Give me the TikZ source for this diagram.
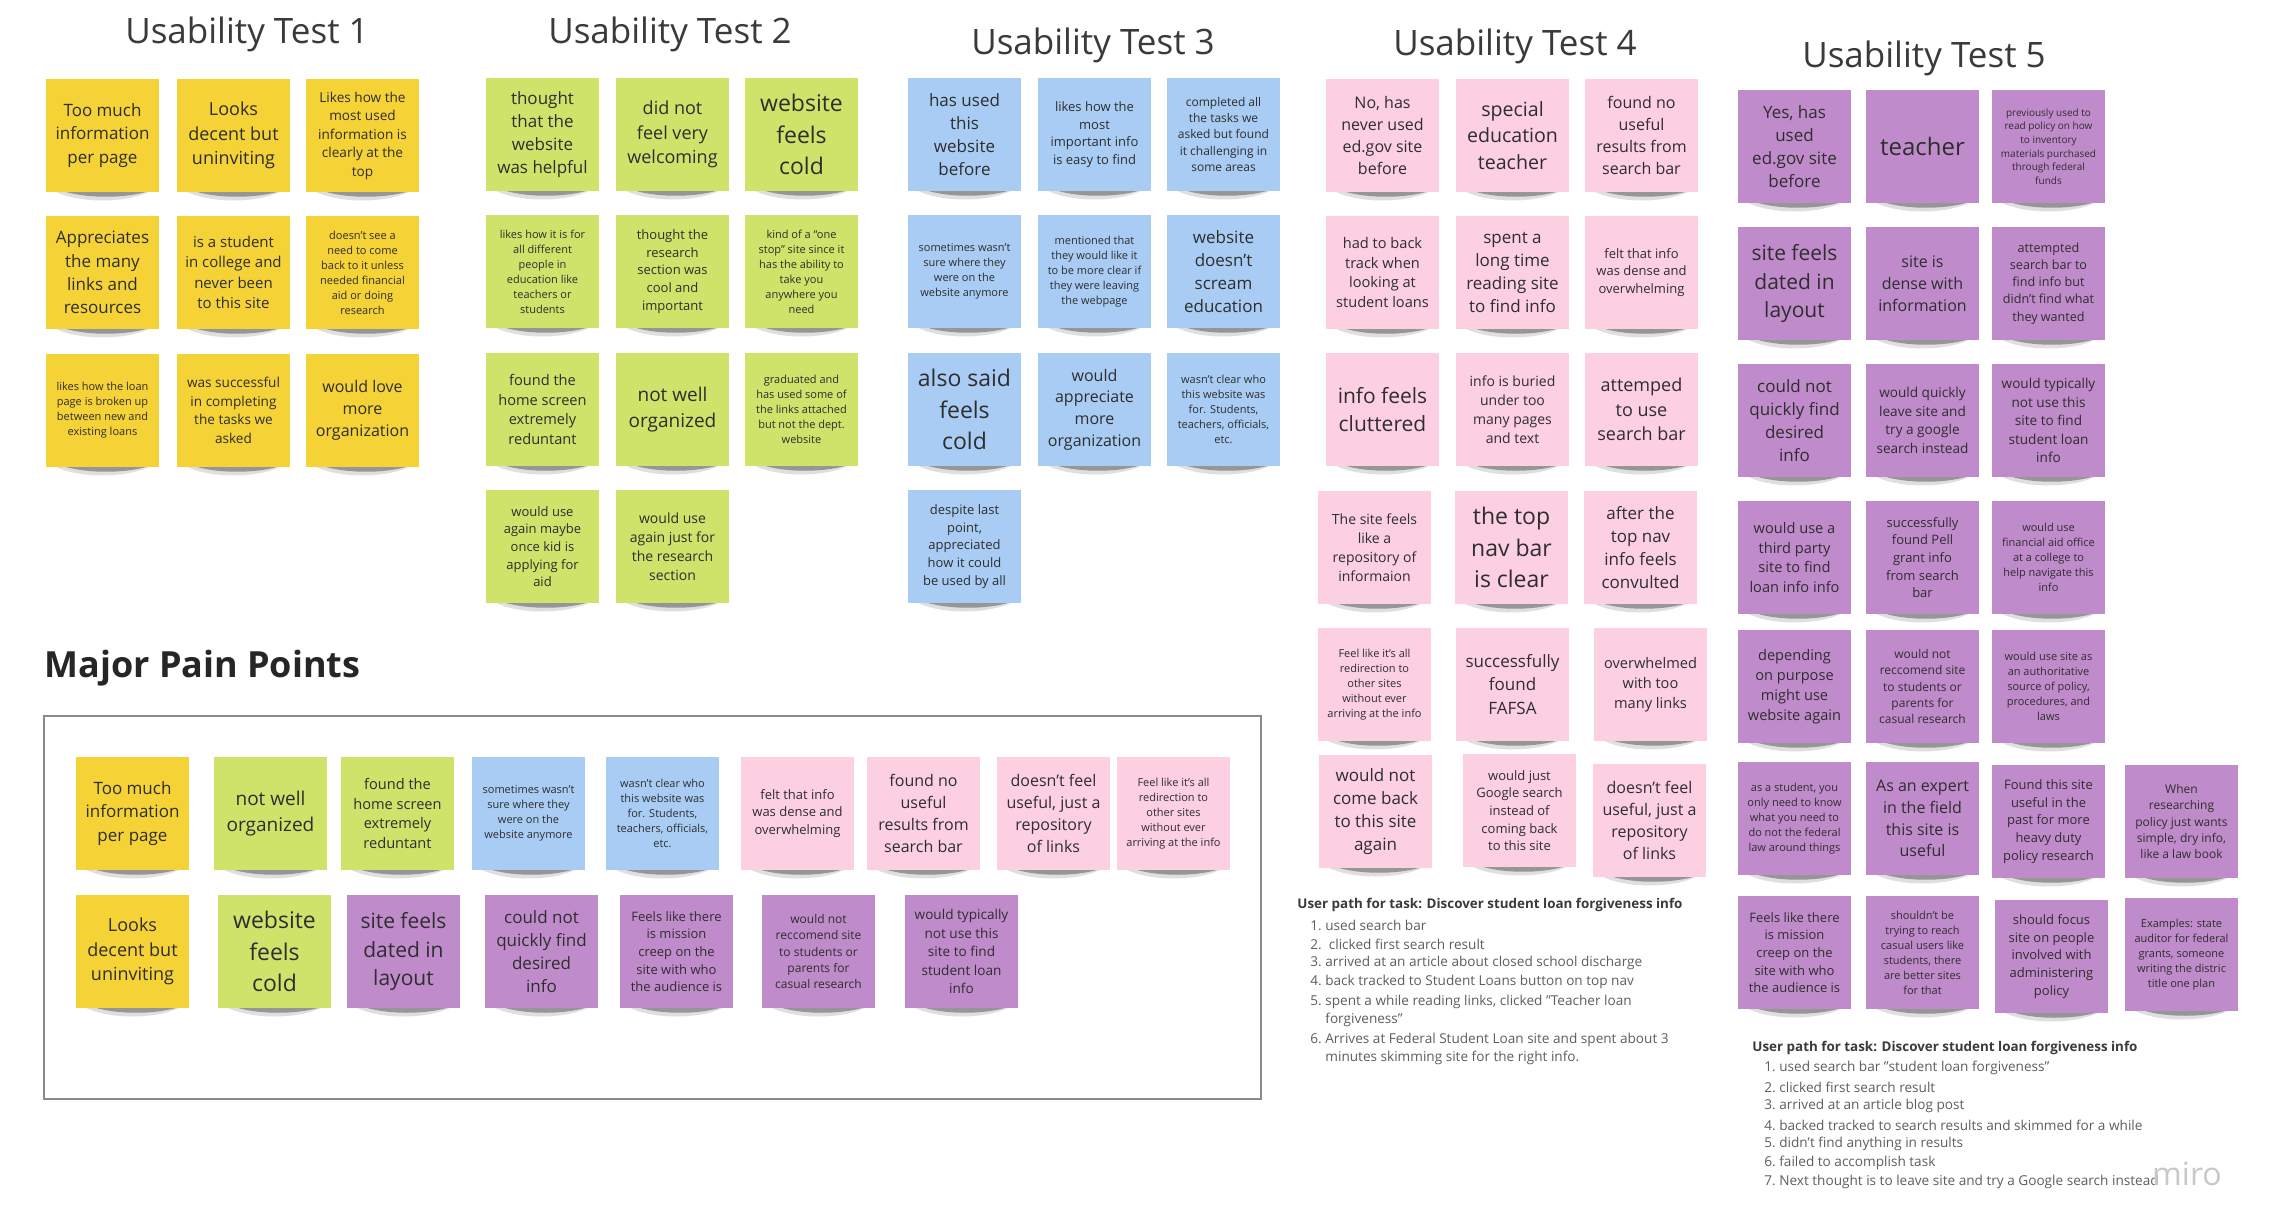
\documentclass[tikz,border=0pt]{standalone}
\usepackage{fontspec}
\setmainfont{Open Sans}
\definecolor{ylw}{HTML}{F5D236}
\definecolor{grn}{HTML}{CFE26A}
\definecolor{blu}{HTML}{A8CCF3}
\definecolor{pnk}{HTML}{FCCFE1}
\definecolor{prp}{HTML}{C08BCB}
\definecolor{notetxt}{HTML}{2E2E2E}
\definecolor{titletxt}{HTML}{3A3A3A}
\definecolor{shadowc}{HTML}{202020}
\definecolor{boxgray}{HTML}{8A8A8A}
\definecolor{pathgray}{HTML}{5E5E5E}
\definecolor{wmark}{HTML}{C8C8C8}
\tikzset{
  sticky/.style={rectangle, draw=none, minimum width=56.5pt, minimum height=56.5pt,
    inner sep=0pt, align=center, text=notetxt},
  ttl/.style={font=\fontsize{17.5}{21}\selectfont, text=titletxt, inner sep=0pt},
  pathhead/.style={anchor=west, inner sep=0pt, font=\bfseries\fontsize{6.7}{8}\selectfont, text=titletxt},
  pathitem/.style={anchor=west, inner sep=0pt, font=\fontsize{6.8}{8}\selectfont, text=pathgray},
}
\newcommand\stk[6]{%
  \fill[shadowc, opacity=.14] (#2+2,#3+108) .. controls (#2+25,#3+126) and (#2+88,#3+126) .. (#2+111,#3+108) -- cycle;
  \fill[shadowc, opacity=.38] (#2+14,#3+111) .. controls (#2+38,#3+120) and (#2+82,#3+120) .. (#2+106,#3+111) -- cycle;
  \node[sticky, fill=#4, font={\fontsize{#5pt}{\dimexpr#5pt*136/100\relax}\selectfont}] (#1) at (#2+56.5,#3+56.5) {#6};%
}
\begin{document}
\begin{tikzpicture}[x=0.5pt,y=-0.5pt]
\useasboundingbox[fill=white] (0,0) rectangle (2276,1213);

% titles
\node[ttl] (t1) at (247,34) {Usability Test 1};
\node[ttl] (t2) at (670,34) {Usability Test 2};
\node[ttl] (t3) at (1093,45) {Usability Test 3};
\node[ttl] (t4) at (1515,46) {Usability Test 4};
\node[ttl] (t5) at (1924,58) {Usability Test 5};

% Test 1
\stk{a1}{46}{79}{ylw}{8.5}{Too much\\information\\per page}
\stk{a2}{177}{79}{ylw}{9}{Looks\\decent but\\uninviting}
\stk{a3}{306}{79}{ylw}{6.8}{Likes how the\\most used\\information is\\clearly at the\\top}
\stk{a4}{46}{216}{ylw}{8.5}{Appreciates\\the many\\links and\\resources}
\stk{a5}{177}{216}{ylw}{7.5}{is a student\\in college and\\never been\\to this site}
\stk{a6}{306}{216}{ylw}{5.5}{doesn't see a\\need to come\\back to it unless\\needed financial\\aid or doing\\research}
\stk{a7}{46}{354}{ylw}{5.5}{likes how the loan\\page is broken up\\between new and\\existing loans}
\stk{a8}{177}{354}{ylw}{6.8}{was successful\\in completing\\the tasks we\\asked}
\stk{a9}{306}{354}{ylw}{8}{would love\\more\\organization}

% Test 2
\stk{b1}{486}{78}{grn}{8.5}{thought\\that the\\website\\was helpful}
\stk{b2}{616}{78}{grn}{9}{did not\\feel very\\welcoming}
\stk{b3}{745}{78}{grn}{11.5}{website\\feels\\cold}
\stk{b4}{486}{215}{grn}{5.5}{likes how it is for\\all different\\people in\\education like\\teachers or\\students}
\stk{b5}{616}{215}{grn}{6.5}{thought the\\research\\section was\\cool and\\important}
\stk{b6}{745}{215}{grn}{5.5}{kind of a ``one\\stop'' site since it\\has the ability to\\take you\\anywhere you\\need}
\stk{b7}{486}{353}{grn}{7.3}{found the\\home screen\\extremely\\reduntant}
\stk{b8}{616}{353}{grn}{9.5}{not well\\organized}
\stk{b9}{745}{353}{grn}{5.5}{graduated and\\has used some of\\the links attached\\but not the dept.\\website}
\stk{b10}{486}{490}{grn}{6.5}{would use\\again maybe\\once kid is\\applying for\\aid}
\stk{b11}{616}{490}{grn}{7}{would use\\again just for\\the research\\section}

% Test 3
\stk{c1}{908}{78}{blu}{8.5}{has used\\this\\website\\before}
\stk{c2}{1038}{78}{blu}{6.5}{likes how the\\most\\important info\\is easy to find}
\stk{c3}{1167}{78}{blu}{6}{completed all\\the tasks we\\asked but found\\it challenging in\\some areas}
\stk{c4}{908}{215}{blu}{5.5}{sometimes wasn't\\sure where they\\were on the\\website anymore}
\stk{c5}{1038}{215}{blu}{5.5}{mentioned that\\they would like it\\to be more clear if\\they were leaving\\the webpage}
\stk{c6}{1167}{215}{blu}{8.5}{website\\doesn't\\scream\\education}
\stk{c7}{908}{353}{blu}{11.5}{also said\\feels\\cold}
\stk{c8}{1038}{353}{blu}{8}{would\\appreciate\\more\\organization}
\stk{c9}{1167}{353}{blu}{5.5}{wasn't clear who\\this website was\\for. Students,\\teachers, officials,\\etc.}
\stk{c10}{908}{490}{blu}{6.5}{despite last\\point,\\appreciated\\how it could\\be used by all}

% Test 4
\stk{d1}{1326}{79}{pnk}{8}{No, has\\never used\\ed.gov site\\before}
\stk{d2}{1456}{79}{pnk}{9.8}{special\\education\\teacher}
\stk{d3}{1585}{79}{pnk}{8}{found no\\useful\\results from\\search bar}
\stk{d4}{1326}{216}{pnk}{7.3}{had to back\\track when\\looking at\\student loans}
\stk{d5}{1456}{216}{pnk}{8.5}{spent a\\long time\\reading site\\to find info}
\stk{d6}{1585}{216}{pnk}{6.5}{felt that info\\was dense and\\overwhelming}
\stk{d7}{1326}{353}{pnk}{10.5}{info feels\\cluttered}
\stk{d8}{1456}{353}{pnk}{7}{info is buried\\under too\\many pages\\and text}
\stk{d9}{1585}{353}{pnk}{9}{attemped\\to use\\search bar}
\stk{d10}{1318}{491}{pnk}{7}{The site feels\\like a\\repository of\\informaion}
\stk{d11}{1455}{491}{pnk}{11.5}{the top\\nav bar\\is clear}
\stk{d12}{1584}{491}{pnk}{8.5}{after the\\top nav\\info feels\\convulted}
\stk{d13}{1318}{628}{pnk}{5.5}{Feel like it's all\\redirection to\\other sites\\without ever\\arriving at the info}
\stk{d14}{1456}{628}{pnk}{8.5}{successfully\\found\\FAFSA}
\stk{d15}{1594}{628}{pnk}{7.3}{overwhelmed\\with too\\many links}
\stk{d16}{1319}{755}{pnk}{8.5}{would not\\come back\\to this site\\again}
\stk{d17}{1463}{754}{pnk}{6.5}{would just\\Google search\\instead of\\coming back\\to this site}
\stk{d18}{1593}{764}{pnk}{8}{doesn't feel\\useful, just a\\repository\\of links}

% Test 5
\stk{e1}{1738}{90}{prp}{8.5}{Yes, has\\used\\ed.gov site\\before}
\stk{e2}{1866}{90}{prp}{12}{teacher}
\stk{e3}{1992}{90}{prp}{5}{previously used to\\read policy on how\\to inventory\\materials purchased\\through federal\\funds}
\stk{e4}{1738}{227}{prp}{10.5}{site feels\\dated in\\layout}
\stk{e5}{1866}{227}{prp}{8}{site is\\dense with\\information}
\stk{e6}{1992}{227}{prp}{6.3}{attempted\\search bar to\\find info but\\didn't find what\\they wanted}
\stk{e7}{1738}{364}{prp}{8.5}{could not\\quickly find\\desired\\info}
\stk{e8}{1866}{364}{prp}{6.8}{would quickly\\leave site and\\try a google\\search instead}
\stk{e9}{1992}{364}{prp}{6.8}{would typically\\not use this\\site to find\\student loan\\info}
\stk{e10}{1738}{501}{prp}{7.3}{would use a\\third party\\site to find\\loan info info}
\stk{e11}{1866}{501}{prp}{6.5}{successfully\\found Pell\\grant info\\from search\\bar}
\stk{e12}{1992}{501}{prp}{5.5}{would use\\financial aid office\\at a college to\\help navigate this\\info}
\stk{e13}{1738}{630}{prp}{7.3}{depending\\on purpose\\might use\\website again}
\stk{e14}{1866}{630}{prp}{6}{would not\\reccomend site\\to students or\\parents for\\casual research}
\stk{e15}{1992}{630}{prp}{5.5}{would use site as\\an authoritative\\source of policy,\\procedures, and\\laws}
\stk{e16}{1738}{762}{prp}{5.5}{as a student, you\\only need to know\\what you need to\\do not the federal\\law around things}
\stk{e17}{1866}{762}{prp}{8}{As an expert\\in the field\\this site is\\useful}
\stk{e18}{1992}{765}{prp}{6.5}{Found this site\\useful in the\\past for more\\heavy duty\\policy research}
\stk{e19}{2125}{765}{prp}{6}{When\\researching\\policy just wants\\simple, dry info,\\like a law book}
\stk{e20}{1738}{896}{prp}{6.5}{Feels like there\\is mission\\creep on the\\site with who\\the audience is}
\stk{e21}{1866}{896}{prp}{5.5}{shouldn't be\\trying to reach\\casual users like\\students, there\\are better sites\\for that}
\stk{e22}{1995}{900}{prp}{6.5}{should focus\\site on people\\involved with\\administering\\policy}
\stk{e23}{2125}{898}{prp}{5.5}{Examples: state\\auditor for federal\\grants, someone\\writing the distric\\title one plan}

% Test 4 user path
\node[pathhead] (u4h) at (1297,905) {User path for task: Discover student loan forgiveness info};
\node[pathitem] (u41) at (1310,925) {1.~used search bar};
\node[pathitem] (u42) at (1310,944) {2.~~clicked first search result};
\node[pathitem] (u43) at (1310,963) {3.~arrived at an article about closed school discharge};
\node[pathitem] (u44) at (1310,982) {4.~back tracked to Student Loans button on top nav};
\node[pathitem] (u45) at (1310,1002) {5.~spent a while reading links, clicked "Teacher loan};
\node[pathitem] (u45b) at (1325,1020) {forgiveness"};
\node[pathitem] (u46) at (1310,1040) {6.~Arrives at Federal Student Loan site and spent about 3};
\node[pathitem] (u46b) at (1325,1058) {minutes skimming site for the right info.};

% Test 5 user path
\node[pathhead] (u5h) at (1752,1048) {User path for task: Discover student loan forgiveness info};
\node[pathitem] (u51) at (1764,1068) {1.~used search bar "student loan forgiveness"};
\node[pathitem] (u52) at (1764,1087) {2.~clicked first search result};
\node[pathitem] (u53) at (1764,1106) {3.~arrived at an article blog post};
\node[pathitem] (u54) at (1764,1125) {4.~backed tracked to search results and skimmed for a while};
\node[pathitem] (u55) at (1764,1144) {5.~didn't find anything in results};
\node[pathitem] (u56) at (1764,1163) {6.~failed to accomplish task};
\node[pathitem] (u57) at (1764,1182) {7.~Next thought is to leave site and try a Google search instead};
\node[inner sep=0pt, text=wmark, font=\fontsize{16}{18}\selectfont] (miro) at (2187,1174) {miro};

% Major pain points
\node[anchor=west, inner sep=0pt, text=black!85, font=\bfseries\fontsize{18}{22}\selectfont] (mpp) at (44,668) {Major Pain Points};
\draw[boxgray, line width=1pt] (44,716) rectangle (1261,1099);

\stk{p1}{76}{757}{ylw}{8.5}{Too much\\information\\per page}
\stk{p2}{214}{757}{grn}{9.5}{not well\\organized}
\stk{p3}{341}{757}{grn}{7.3}{found the\\home screen\\extremely\\reduntant}
\stk{p4}{472}{757}{blu}{5.5}{sometimes wasn't\\sure where they\\were on the\\website anymore}
\stk{p5}{606}{757}{blu}{5.5}{wasn't clear who\\this website was\\for. Students,\\teachers, officials,\\etc.}
\stk{p6}{741}{757}{pnk}{6.5}{felt that info\\was dense and\\overwhelming}
\stk{p7}{867}{757}{pnk}{8}{found no\\useful\\results from\\search bar}
\stk{p8}{997}{757}{pnk}{8}{doesn't feel\\useful, just a\\repository\\of links}
\stk{p9}{1117}{757}{pnk}{5.5}{Feel like it's all\\redirection to\\other sites\\without ever\\arriving at the info}

\stk{q1}{76}{895}{ylw}{9}{Looks\\decent but\\uninviting}
\stk{q2}{218}{895}{grn}{11.5}{website\\feels\\cold}
\stk{q3}{347}{895}{prp}{10.5}{site feels\\dated in\\layout}
\stk{q4}{485}{895}{prp}{8.5}{could not\\quickly find\\desired\\info}
\stk{q5}{620}{895}{prp}{6.5}{Feels like there\\is mission\\creep on the\\site with who\\the audience is}
\stk{q6}{762}{895}{prp}{6}{would not\\reccomend site\\to students or\\parents for\\casual research}
\stk{q7}{905}{895}{prp}{6.8}{would typically\\not use this\\site to find\\student loan\\info}
\end{tikzpicture}
\end{document}
